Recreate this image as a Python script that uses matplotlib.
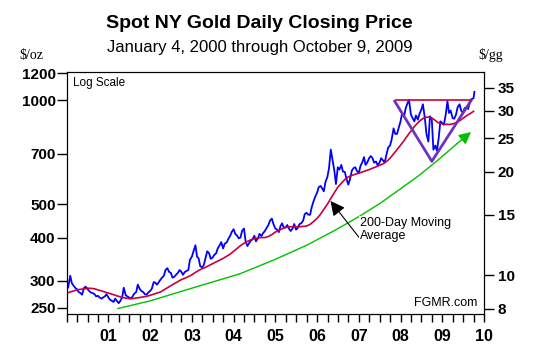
import matplotlib
matplotlib.use("Agg")
import matplotlib.pyplot as plt
import numpy as np
import pandas as pd

# spot gold, $/oz at half-month steps (1st and 15th)
gold_2000 = [283, 288, 310, 295, 290, 286, 283, 278, 276, 273, 286, 288,
             284, 280, 277, 276, 274, 270, 271, 268, 266, 268, 270, 274]
gold_2001 = [268, 264, 262, 260, 266, 262, 258, 262, 268, 286, 272, 270,
             268, 266, 270, 275, 278, 292, 284, 280, 278, 274, 273, 277]
gold_2002 = [280, 284, 297, 296, 292, 296, 302, 306, 310, 322, 326, 318,
             316, 306, 308, 312, 316, 322, 318, 312, 318, 320, 322, 345]
gold_2003 = [352, 365, 380, 352, 348, 330, 328, 333, 350, 365, 360, 347,
             350, 356, 360, 372, 380, 388, 372, 384, 387, 396, 404, 415]
gold_2004 = [423, 410, 405, 398, 400, 418, 425, 390, 378, 385, 392, 396,
             405, 390, 398, 410, 404, 412, 418, 426, 435, 448, 454, 438]
gold_2005 = [425, 422, 415, 432, 440, 428, 428, 435, 424, 418, 425, 438,
             422, 426, 438, 440, 448, 468, 472, 466, 466, 490, 510, 525]
gold_2006 = [540, 560, 565, 555, 545, 580, 600, 635, 720, 675, 625, 572,
             640, 630, 650, 622, 620, 592, 570, 590, 626, 636, 640, 625]
gold_2007 = [615, 645, 662, 685, 650, 660, 680, 690, 680, 660, 665, 648,
             660, 680, 670, 660, 700, 730, 740, 770, 830, 800, 800, 830]
gold_2008 = [870, 920, 900, 950, 980, 1005, 910, 890, 870, 905, 880, 915,
             940, 975, 890, 800, 760, 900, 880, 720, 740, 715, 780, 870]
gold_2009 = [860, 850, 915, 995, 920, 935, 890, 885, 910, 955, 975, 935,
             920, 950, 955, 945, 995, 1010, 1015, 1060]

# 200-day moving average, monthly readings
ma_2000 = [276, 278, 280, 282, 283, 284, 285, 285, 284, 282, 280, 278]
ma_2001 = [276, 274, 272, 270, 268, 267, 266, 266, 267, 268, 269, 270]
ma_2002 = [272, 274, 276, 278, 282, 286, 290, 294, 298, 302, 305, 308]
ma_2003 = [312, 317, 321, 325, 328, 332, 336, 340, 344, 348, 353, 358]
ma_2004 = [365, 372, 379, 385, 390, 394, 397, 399, 400, 400, 403, 408]
ma_2005 = [415, 420, 424, 428, 430, 430, 430, 430, 431, 432, 437, 445]
ma_2006 = [455, 468, 483, 500, 520, 540, 560, 575, 590, 600, 606, 611]
ma_2007 = [615, 620, 625, 630, 636, 642, 648, 655, 665, 680, 700, 720]
ma_2008 = [742, 765, 790, 815, 840, 862, 880, 893, 895, 890, 875, 860]
ma_2009 = [855, 853, 852, 855, 862, 873, 888, 903, 916, 930]

# green trend curve (decimal year, $/oz)
trend_t = [2001.23, 2002.0, 2002.95, 2004.15, 2004.98, 2005.75, 2006.46,
           2007.0, 2007.5, 2007.97, 2008.45, 2008.9, 2009.35]
trend_v = [249, 262, 284, 314, 345, 380, 422, 460, 502, 551, 607, 672, 749]
trend_tip = (2009.69, 810)

# inverted triangle and resistance line
tri_t = [2007.86, 2008.75, 2009.69]
tri_v = [995, 666, 1000]
resist_t = [2007.9, 2009.69]
resist_v = [1002, 1002]

left_ticks = [250, 300, 400, 500, 700, 1000, 1200]
gram_ticks = [8, 10, 15, 20, 25, 30, 35]
year_labels = ["01", "02", "03", "04", "05", "06", "07", "08", "09", "10"]
OZ_PER_GRAM = 31.1035


def dec_year(idx):
    return idx.year + (idx.dayofyear - 1) / np.where(idx.is_leap_year, 366, 365)


gold = sum([gold_2000, gold_2001, gold_2002, gold_2003, gold_2004, gold_2005,
            gold_2006, gold_2007, gold_2008, gold_2009], [])
gold_dates = pd.date_range("2000-01-01", "2009-10-01", freq="SMS")
gold_dates = pd.DatetimeIndex(["2000-01-04"]).append(gold_dates[1:])
gold_dates = gold_dates.append(pd.DatetimeIndex(["2009-10-09"]))
gold_t = dec_year(gold_dates)

ma = sum([ma_2000, ma_2001, ma_2002, ma_2003, ma_2004, ma_2005, ma_2006,
          ma_2007, ma_2008, ma_2009], [])
ma_t = dec_year(pd.date_range("2000-01-01", "2009-10-01", freq="MS"))

plt.rcParams["font.family"] = ["Liberation Sans", "DejaVu Sans"]
fig = plt.figure(figsize=(5.34, 3.56), dpi=100)
ax = fig.add_axes([0.1249, 0.118, 0.7815, 0.6798])

ax.plot(gold_t, gold, color="#0000FF", lw=1.3, zorder=3)
ax.plot(ma_t, ma, color="#C8003C", lw=1.2, zorder=4)
ax.plot(trend_t, trend_v, color="#00C000", lw=1.0, zorder=2)
ax.annotate("", xy=trend_tip, xytext=(trend_t[-1], trend_v[-1]),
            arrowprops=dict(arrowstyle="-|>", color="#00C000", lw=1.0,
                            mutation_scale=18, shrinkA=0, shrinkB=0))
ax.plot(tri_t, tri_v, color="#7030C0", lw=2.0, zorder=5)
ax.plot(resist_t, resist_v, color="#C8003C", lw=1.2, zorder=5)

ax.annotate("", xy=(2006.32, 511), xytext=(2007.03, 397),
            arrowprops=dict(arrowstyle="-|>", color="black", lw=0.8,
                            mutation_scale=22, shrinkA=0, shrinkB=0))
ax.text(2007.03, 423, "200-Day Moving\nAverage", fontsize=9,
        va="center", ha="left", linespacing=1.1,
        bbox=dict(facecolor="white", edgecolor="none", pad=0.5))

ax.set_yscale("log")
ax.set_ylim(240, 1210)
ax.set_xlim(2000, 2010)
ax.set_yticks(left_ticks)
ax.set_yticklabels([str(v) for v in left_ticks], fontweight="bold", fontsize=11)
ax.yaxis.set_minor_locator(matplotlib.ticker.NullLocator())
ax.tick_params(axis="y", length=7, width=1, pad=1)

ax.set_xticks(np.arange(2001, 2011))
ax.set_xticklabels(year_labels, fontweight="bold", fontsize=11.5)
ax.set_xticks(np.arange(2000, 2010.01, 0.25), minor=True)
ax.tick_params(axis="x", which="both", length=6, width=1, pad=5)

ax2 = ax.twinx()
ax2.set_yscale("log")
ax2.set_ylim(ax.get_ylim())
ax2.set_yticks([g * OZ_PER_GRAM for g in gram_ticks])
ax2.set_yticklabels([str(g) for g in gram_ticks], fontweight="bold", fontsize=11)
ax2.yaxis.set_minor_locator(matplotlib.ticker.NullLocator())
ax2.tick_params(axis="y", length=7, width=1, pad=3)

ax.text(0.015, 0.955, "Log Scale", transform=ax.transAxes, fontsize=8.5,
        va="center", ha="left")
ax.text(0.985, 0.045, "FGMR.com", transform=ax.transAxes, fontsize=9,
        va="center", ha="right")

fig.text(0.486, 0.935, "Spot NY Gold Daily Closing Price", fontsize=14,
         fontweight="bold", ha="center", va="center")
fig.text(0.486, 0.866, "January 4, 2000 through October 9, 2009", fontsize=12,
         ha="center", va="center")
fig.text(0.058, 0.845, "$/oz", fontsize=10, family="Liberation Serif",
         ha="center", va="center")
fig.text(0.918, 0.845, "$/gg", fontsize=10, family="Liberation Serif",
         ha="center", va="center")

fig.savefig("out.png", dpi=100)
